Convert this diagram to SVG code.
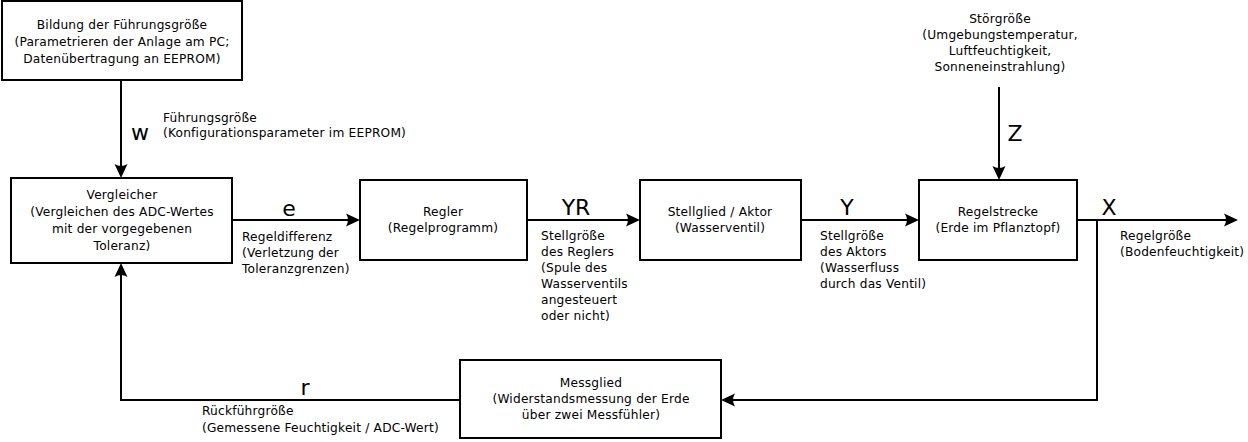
<svg xmlns="http://www.w3.org/2000/svg" width="1248" height="442" viewBox="0 0 1248 442">
<style>
.box{fill:#fff;stroke:#000;stroke-width:2}
.t{font-family:"DejaVu Sans",sans-serif;font-size:12.2px;letter-spacing:0.2px;fill:#000}
.c{text-anchor:middle}
.big{font-family:"DejaVu Sans",sans-serif;font-size:22px;fill:#000;text-anchor:middle}
.ln{fill:none;stroke:#000;stroke-width:2}
</style>
<defs>
<marker id="ah" markerUnits="userSpaceOnUse" markerWidth="20" markerHeight="16" viewBox="-12 -8 20 16" refX="0" refY="0" orient="auto">
<path d="M4,0 L-10,-6.5 Q-6,0 -10,6.5 Z" fill="#000"/>
</marker>
</defs>
<rect width="1248" height="442" fill="#fff"/>
<g id="connectors">
<path class="ln" d="M121,80 V174" marker-end="url(#ah)"/>
<path class="ln" d="M232,220 H356" marker-end="url(#ah)"/>
<path class="ln" d="M527,220 H636" marker-end="url(#ah)"/>
<path class="ln" d="M801,220 H915" marker-end="url(#ah)"/>
<path class="ln" d="M999,87 V176" marker-end="url(#ah)"/>
<path class="ln" d="M1077,220 H1234" marker-end="url(#ah)"/>
<path class="ln" d="M1097,220 V400 H725" marker-end="url(#ah)"/>
<path class="ln" d="M460,400 H121 V267" marker-end="url(#ah)"/>
</g>
<g id="fuehrung">
<rect class="box" x="2" y="1" width="240" height="79"/>
<text class="t c" x="122" y="29">Bildung der Führungsgröße</text>
<text class="t c" x="122" y="46">(Parametrieren der Anlage am PC;</text>
<text class="t c" x="122" y="63">Datenübertragung an EEPROM)</text>
</g>
<g id="label-w">
<text class="big" x="140" y="140">w</text>
<text class="t" x="163" y="122">Führungsgröße</text>
<text class="t" x="163" y="137">(Konfigurationsparameter im EEPROM)</text>
</g>
<g id="vergleicher">
<rect class="box" x="11" y="178" width="221" height="85"/>
<text class="t c" x="122" y="199">Vergleicher</text>
<text class="t c" x="122" y="216">(Vergleichen des ADC-Wertes</text>
<text class="t c" x="122" y="233">mit der vorgegebenen</text>
<text class="t c" x="122" y="250">Toleranz)</text>
</g>
<g id="label-e">
<text class="big" x="289" y="216">e</text>
<text class="t" x="242" y="241">Regeldifferenz</text>
<text class="t" x="242" y="257">(Verletzung der</text>
<text class="t" x="242" y="273">Toleranzgrenzen)</text>
</g>
<g id="regler">
<rect class="box" x="360" y="180" width="167" height="80"/>
<text class="t c" x="443" y="216">Regler</text>
<text class="t c" x="443" y="232">(Regelprogramm)</text>
</g>
<g id="label-yr">
<text class="big" x="576" y="215">YR</text>
<text class="t" x="541" y="240">Stellgröße</text>
<text class="t" x="541" y="256">des Reglers</text>
<text class="t" x="541" y="272">(Spule des</text>
<text class="t" x="541" y="288">Wasserventils</text>
<text class="t" x="541" y="304">angesteuert</text>
<text class="t" x="541" y="320">oder nicht)</text>
</g>
<g id="stellglied">
<rect class="box" x="640" y="180" width="161" height="80"/>
<text class="t c" x="720" y="216">Stellglied / Aktor</text>
<text class="t c" x="720" y="232">(Wasserventil)</text>
</g>
<g id="label-y">
<text class="big" x="847" y="215">Y</text>
<text class="t" x="820" y="240">Stellgröße</text>
<text class="t" x="820" y="256">des Aktors</text>
<text class="t" x="820" y="272">(Wasserfluss</text>
<text class="t" x="820" y="288">durch das Ventil)</text>
</g>
<g id="regelstrecke">
<rect class="box" x="919" y="180" width="158" height="80"/>
<text class="t c" x="998" y="216">Regelstrecke</text>
<text class="t c" x="998" y="232">(Erde im Pflanztopf)</text>
</g>
<g id="stoergroesse">
<text class="t c" x="1000" y="23">Störgröße</text>
<text class="t c" x="1000" y="39">(Umgebungstemperatur,</text>
<text class="t c" x="1000" y="55">Luftfeuchtigkeit,</text>
<text class="t c" x="1000" y="71">Sonneneinstrahlung)</text>
<text class="big" x="1015" y="141">Z</text>
</g>
<g id="label-x">
<text class="big" x="1109" y="215">X</text>
<text class="t" x="1120" y="240">Regelgröße</text>
<text class="t" x="1120" y="256">(Bodenfeuchtigkeit)</text>
</g>
<g id="messglied">
<rect class="box" x="460" y="360" width="261" height="78"/>
<text class="t c" x="591" y="387">Messglied</text>
<text class="t c" x="591" y="403">(Widerstandsmessung der Erde</text>
<text class="t c" x="591" y="419">über zwei Messfühler)</text>
</g>
<g id="label-r">
<text class="big" x="305" y="395">r</text>
<text class="t" x="202" y="415">Rückführgröße</text>
<text class="t" x="202" y="432">(Gemessene Feuchtigkeit / ADC-Wert)</text>
</g>
</svg>
